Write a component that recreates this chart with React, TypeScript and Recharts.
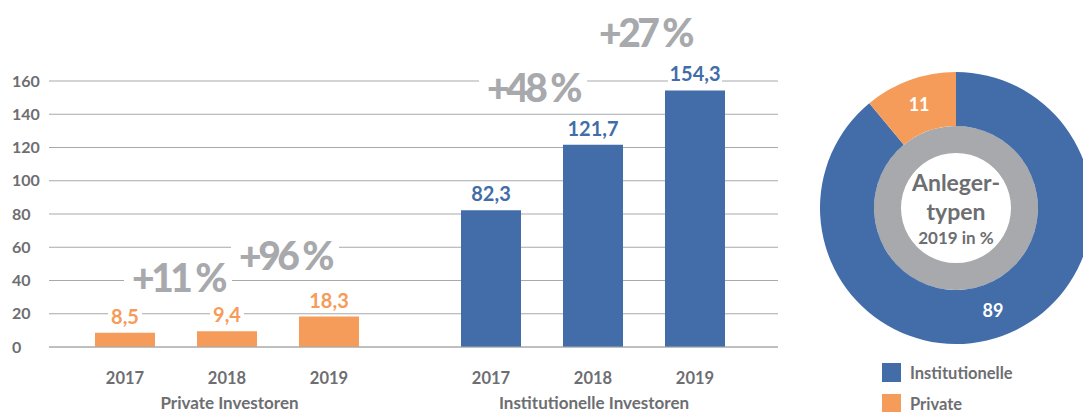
import { Bar, BarChart, CartesianGrid, LabelList, Legend, Pie, PieChart, XAxis, YAxis, Cell } from "recharts";

const years = ["2017", "2018", "2019"];
const privateValues = [8.5, 9.4, 18.3];
const institutionalValues = [82.3, 121.7, 154.3];
const yTicks = [0, 20, 40, 60, 80, 100, 120, 140, 160];
const groupNames = ["Private Investoren", "Institutionelle Investoren"];
const growthLabels = ["+11 %", "+96 %", "+48 %", "+27 %"];
const shareNames = ["Institutionelle", "Private"];
const shareValues = [89, 11];

const BLUE = "#426da9";
const ORANGE = "#f59c5a";
const GRID = "#a7a9ac";
const TEXT = "#6d6e71";
const FONT = "Lato, 'Open Sans', sans-serif";

const privateData = years.map((y, i) => ({ year: y, value: privateValues[i] }));
const instData = years.map((y, i) => ({ year: y, value: institutionalValues[i] }));
const shareData = shareNames.map((n, i) => ({ name: n, value: shareValues[i] }));
const ringData = [{ name: "ring", value: 1 }];

// where the growth badges sit (center points)
const growthPos = [
  { x: 178, y: 277 },
  { x: 285, y: 255 },
  { x: 533, y: 87 },
  { x: 645, y: 32 },
];

const fmt = (v: number) => v.toFixed(1).replace(".", ",");

function YTick({ y, payload }: any) {
  return (
    <text x={12} y={y} dy={5.5} textAnchor="start" fill={TEXT} fontSize={16} fontWeight={700} fontFamily={FONT}>
      {payload.value}
    </text>
  );
}

function XTick({ x, y, payload }: any) {
  return (
    <text x={x} y={y + 23} dy={5.5} textAnchor="middle" fill={TEXT} fontSize={16.5} fontWeight={700} fontFamily={FONT}>
      {payload.value}
    </text>
  );
}

function valueLabel(color: string) {
  return (props: any) => {
    const { x, y, width, value } = props;
    const cx = x + width / 2;
    const cy = y - 16;
    const txt = fmt(value);
    const w = txt.length * 10 + 4;
    return (
      <g>
        <rect x={cx - w / 2} y={cy - 11} width={w} height={22} fill="#fff" />
        <text x={cx} y={cy} dy={7} textAnchor="middle" fill={color} fontSize={20} fontWeight={700} fontFamily={FONT}>
          {txt}
        </text>
      </g>
    );
  };
}

const axisLabel = (value: string) => ({
  value,
  position: "insideBottom" as const,
  offset: 3,
  fill: TEXT,
  fontSize: 17,
  fontWeight: 700,
  fontFamily: FONT,
});

function PieLabel(props: any) {
  const { cx, cy, midAngle, innerRadius, outerRadius, value } = props;
  const r = (innerRadius + outerRadius) / 2;
  const rad = (Math.PI / 180) * midAngle;
  const x = cx + r * Math.cos(rad);
  const y = cy - r * Math.sin(rad);
  return (
    <text x={x} y={y} dy={6} textAnchor="middle" fill="#fff" fontSize={18} fontWeight={700} fontFamily={FONT}>
      {value}
    </text>
  );
}

function LegendContent() {
  return (
    <div style={{ fontFamily: FONT }}>
      {shareData.map((d, i) => (
        <div key={d.name} style={{ display: "flex", alignItems: "center", height: 31 }}>
          <div style={{ width: 19, height: 19, background: i === 0 ? BLUE : ORANGE, marginRight: 9 }} />
          <span style={{ color: TEXT, fontSize: 16.5, fontWeight: 700 }}>{d.name}</span>
        </div>
      ))}
    </div>
  );
}

export default function App() {
  return (
    <div style={{ position: "absolute", left: 0, top: 0, width: 1083, height: 412, overflow: "hidden", background: "#fff", fontFamily: FONT }}>
      <div style={{ position: "absolute", left: 0, top: 0 }}>
        <BarChart width={410} height={412} data={privateData} margin={{ top: 81, right: 0, bottom: 0, left: 0 }}>
          <CartesianGrid vertical={false} stroke={GRID} strokeWidth={1.2} />
          <YAxis domain={[0, 160]} ticks={yTicks} width={49} axisLine={false} tickLine={false} tick={<YTick />} interval={0} />
          <XAxis dataKey="year" height={65} padding={{ left: 25, right: 30 }} axisLine={{ stroke: GRID, strokeWidth: 1.2 }} tickLine={false} tick={<XTick />} label={axisLabel(groupNames[0])} />
          <Bar dataKey="value" fill={ORANGE} barSize={60} isAnimationActive={false}>
            <LabelList dataKey="value" content={valueLabel(ORANGE)} />
          </Bar>
        </BarChart>
      </div>
      <div style={{ position: "absolute", left: 410, top: 0 }}>
        <BarChart width={368} height={412} data={instData} margin={{ top: 81, right: 0, bottom: 0, left: 0 }}>
          <CartesianGrid vertical={false} stroke={GRID} strokeWidth={1.2} />
          <YAxis domain={[0, 160]} ticks={yTicks} hide />
          <XAxis dataKey="year" height={65} padding={{ left: 30, right: 32 }} axisLine={{ stroke: GRID, strokeWidth: 1.2 }} tickLine={false} tick={<XTick />} label={axisLabel(groupNames[1])} />
          <Bar dataKey="value" fill={BLUE} barSize={60} isAnimationActive={false}>
            <LabelList dataKey="value" content={valueLabel(BLUE)} />
          </Bar>
        </BarChart>
      </div>
      {growthLabels.map((g, i) => (
        <div
          key={g}
          style={{
            position: "absolute",
            left: growthPos[i].x,
            top: growthPos[i].y,
            transform: "translate(-50%, -50%)",
            background: "#fff",
            padding: "0 8px",
            color: GRID,
            fontSize: 39,
            fontWeight: 900,
            letterSpacing: -3.5,
            lineHeight: "38px",
            whiteSpace: "nowrap",
          }}
        >
          {g}
        </div>
      ))}
      <div style={{ position: "absolute", left: 806, top: 0 }}>
        <PieChart width={300} height={412} margin={{ top: 0, right: 0, bottom: 0, left: 0 }}>
          <Pie data={ringData} dataKey="value" cx={150} cy={208} innerRadius={55} outerRadius={82} fill={GRID} stroke="none" isAnimationActive={false} />
          <Pie
            data={shareData}
            dataKey="value"
            cx={150}
            cy={208}
            innerRadius={82}
            outerRadius={136}
            startAngle={90}
            endAngle={-270}
            stroke="none"
            label={<PieLabel />}
            labelLine={false}
            isAnimationActive={false}
          >
            {shareData.map((d, i) => (
              <Cell key={d.name} fill={i === 0 ? BLUE : ORANGE} />
            ))}
          </Pie>
          <text x={150} y={191} textAnchor="middle" fill={TEXT} fontSize={23} fontWeight={700} fontFamily={FONT}>Anleger-</text>
          <text x={150} y={220} textAnchor="middle" fill={TEXT} fontSize={23} fontWeight={700} fontFamily={FONT}>typen</text>
          <text x={150} y={244} textAnchor="middle" fill={TEXT} fontSize={17} fontWeight={700} fontFamily={FONT}>2019 in %</text>
          <Legend content={<LegendContent />} wrapperStyle={{ position: "absolute", left: 76, top: 357, width: 200 }} />
        </PieChart>
      </div>
    </div>
  );
}
